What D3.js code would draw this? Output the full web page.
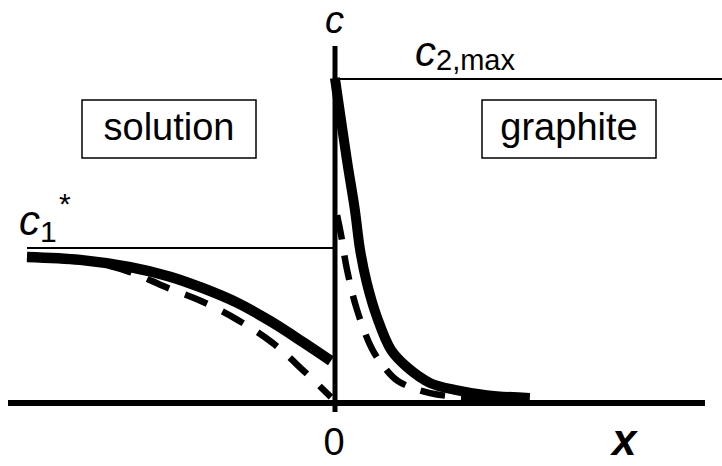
<!DOCTYPE html>
<html>
<head>
<meta charset="utf-8">
<script src="https://cdn.jsdelivr.net/npm/d3@7"></script>
<style>
  html, body { margin: 0; padding: 0; background: #fff; }
  svg { display: block; font-family: "Liberation Sans", Arial, sans-serif; }
</style>
</head>
<body>
<svg id="chart" width="722" height="466"></svg>
<script>
// Concentration profiles across the solution | graphite interface (x = 0)
// Solution side (x < 0): solid = full model, dashed = simplified model
const solutionX      = [-1.000, -0.827, -0.664, -0.534, -0.427, -0.316, -0.208, -0.101, -0.010];
const solutionSolid  = [0.444, 0.435, 0.413, 0.384, 0.349, 0.305, 0.249, 0.185, 0.128];
const solutionDashX  = [-1.000, -0.795, -0.664, -0.550, -0.433, -0.313, -0.199, -0.098, -0.010];
const solutionDashed = [0.444, 0.429, 0.398, 0.353, 0.310, 0.252, 0.182, 0.097, 0.018];

// Graphite side (x > 0)
const graphiteX      = [0.003, 0.042, 0.068, 0.085, 0.107, 0.140, 0.186, 0.238, 0.313, 0.394, 0.498, 0.638];
const graphiteSolid  = [0.988, 0.739, 0.587, 0.465, 0.365, 0.261, 0.161, 0.109, 0.061, 0.040, 0.024, 0.015];
const graphiteDashX  = [0.010, 0.023, 0.042, 0.075, 0.124, 0.166, 0.208, 0.313, 0.476, 0.638];
const graphiteDashed = [0.571, 0.511, 0.407, 0.283, 0.164, 0.106, 0.067, 0.030, 0.015, 0.012];

// Reference levels
const c1Star = 0.471;   // bulk solution concentration c1*
const c2Max  = 0.985;   // saturation concentration c2,max
const xTickLabels = ["0"];

const svg = d3.select("#chart");
const x = d3.scaleLinear().domain([-1, 1]).range([27, 641]);
const y = d3.scaleLinear().domain([0, 1]).range([403, 74]);

const line = (xs, ys) => d3.line()
  .x((d, i) => x(xs[i]))
  .y(d => y(d))
  .curve(d3.curveCatmullRom.alpha(0.5))(ys);

// Reference level lines
svg.append("line")
  .attr("x1", x(-1)).attr("x2", x(0))
  .attr("y1", y(c1Star)).attr("y2", y(c1Star))
  .attr("stroke", "#000").attr("stroke-width", 2);
svg.append("line")
  .attr("x1", x(0)).attr("x2", 722)
  .attr("y1", y(c2Max)).attr("y2", y(c2Max))
  .attr("stroke", "#000").attr("stroke-width", 2);

// Dashed curves
svg.append("path").attr("d", line(solutionDashX, solutionDashed))
  .attr("fill", "none").attr("stroke", "#000").attr("stroke-width", 6.5)
  .attr("stroke-dasharray", "24,17");
svg.append("path").attr("d", line(graphiteDashX, graphiteDashed))
  .attr("fill", "none").attr("stroke", "#000").attr("stroke-width", 6.5)
  .attr("stroke-dasharray", "25,16");

// Solid curves
svg.append("path").attr("d", line(solutionX, solutionSolid))
  .attr("fill", "none").attr("stroke", "#000").attr("stroke-width", 10.5);
svg.append("path").attr("d", line(graphiteX, graphiteSolid))
  .attr("fill", "none").attr("stroke", "#000").attr("stroke-width", 10);

// Axes
svg.append("line")
  .attr("x1", 8).attr("x2", 705)
  .attr("y1", y(0)).attr("y2", y(0))
  .attr("stroke", "#000").attr("stroke-width", 6);
svg.append("line")
  .attr("x1", x(0) + 1).attr("x2", x(0) + 1)
  .attr("y1", 46).attr("y2", 412)
  .attr("stroke", "#000").attr("stroke-width", 5);

// Tick label
svg.selectAll(".tick-label").data(xTickLabels).enter().append("text")
  .attr("class", "tick-label")
  .attr("x", x(0)).attr("y", 455)
  .attr("text-anchor", "middle")
  .attr("font-size", 38)
  .text(d => d);

// Axis titles
svg.append("text").attr("x", 612).attr("y", 455)
  .attr("font-size", 44).attr("font-style", "italic").attr("font-weight", "bold")
  .text("x");
svg.append("text").attr("x", 325).attr("y", 33)
  .attr("font-size", 38).attr("font-style", "italic")
  .text("c");

// c2,max label
const cmax = svg.append("text").attr("x", 415).attr("y", 66).attr("font-size", 42);
cmax.append("tspan").attr("font-style", "italic").text("c");
cmax.append("tspan").attr("font-size", 29).attr("dy", 4).text("2,max");

// c1* label
const c1 = svg.append("text").attr("x", 19).attr("y", 235).attr("font-size", 42);
c1.append("tspan").attr("font-style", "italic").text("c");
c1.append("tspan").attr("font-size", 30).attr("dy", 7).text("1");
svg.append("text").attr("x", 59).attr("y", 214).attr("font-size", 30).text("*");

// Region boxes
const boxes = [
  { label: "solution", x0: 82, x1: 256 },
  { label: "graphite", x0: 482, x1: 656 }
];
boxes.forEach(b => {
  svg.append("rect")
    .attr("x", b.x0).attr("y", 100)
    .attr("width", b.x1 - b.x0).attr("height", 58)
    .attr("fill", "none").attr("stroke", "#000").attr("stroke-width", 1.5);
  svg.append("text")
    .attr("x", (b.x0 + b.x1) / 2).attr("y", 140)
    .attr("text-anchor", "middle").attr("font-size", 38)
    .text(b.label);
});
</script>
</body>
</html>
